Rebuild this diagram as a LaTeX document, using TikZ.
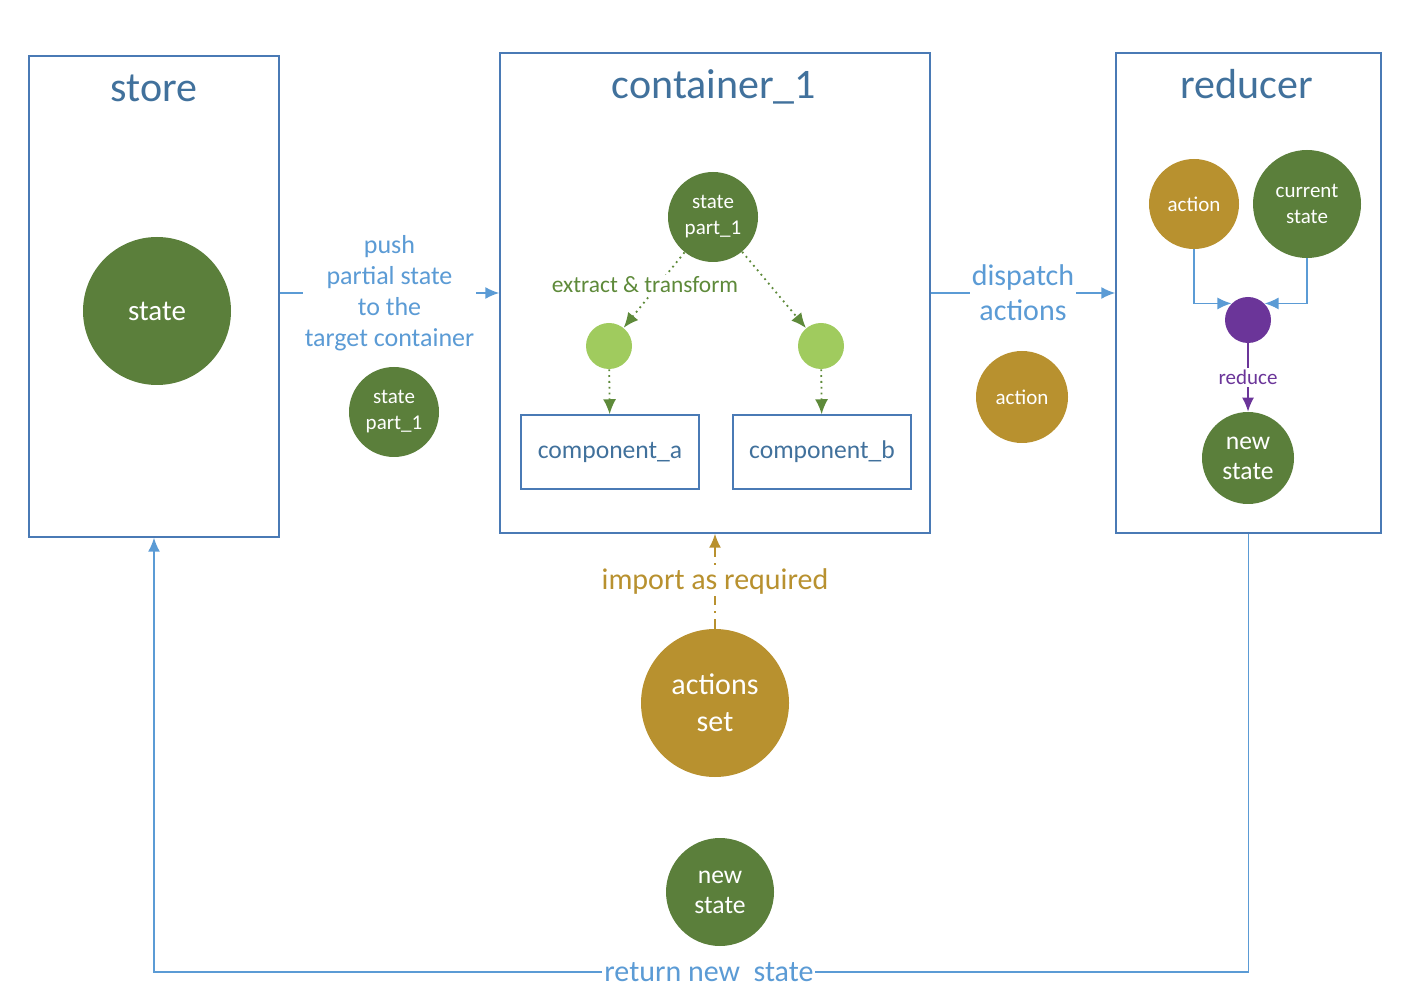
\documentclass[tikz,border=0pt]{standalone}
\usepackage{fontspec}
\setmainfont{Carlito}
\usetikzlibrary{positioning,arrows.meta}
\definecolor{boxblue}{HTML}{4A7AB5}
\definecolor{titleblue}{HTML}{41719C}
\definecolor{lineblue}{HTML}{5B9BD5}
\definecolor{stategreen}{HTML}{5B7F3B}
\definecolor{leafgreen}{HTML}{A0CB5E}
\definecolor{labelgreen}{HTML}{5E8A3A}
\definecolor{actiongold}{HTML}{B8912F}
\definecolor{reducepurple}{HTML}{6B3599}

\begin{document}
\begin{tikzpicture}[x=0.5pt,y=-0.5pt,
  box/.style={rectangle,draw=boxblue,line width=0.75pt},
  boxtitle/.style={text=titleblue,font=\fontsize{21}{25}\selectfont},
  blob/.style={circle,fill=#1,text=white,align=center,inner sep=0pt},
  flow/.style={-{Latex[length=7pt,width=6pt]},draw=lineblue,line width=0.75pt},
  extracts/.style={-{Latex[length=7.5pt,width=6.5pt]},labelgreen,dotted,line width=0.9pt},
  tag/.style={fill=white,inner sep=1pt,align=center}]
\useasboundingbox (0,0) rectangle (1406,1004);

% store
\node(store)[box,minimum width=125pt,minimum height=240.5pt] at (154,296.5){};
\node(storetitle)[boxtitle] at (154,88){store};
\node(state)[blob=stategreen,minimum size=74pt,font=\fontsize{14.5}{17}\selectfont] at (157,311){state};

% container_1
\node(container)[box,minimum width=215pt,minimum height=240pt] at (715,293){};
\node(containertitle)[boxtitle] at (714,87){container\_1};
\node(part)[blob=stategreen,minimum size=45pt,font=\fontsize{10.5}{13}\selectfont] at (713,217){state\\part\_1};
\node(leafa)[blob=leafgreen,minimum size=23pt] at (609,346){};
\node(leafb)[blob=leafgreen,minimum size=23pt] at (821,346){};
\node(compa)[box,minimum width=89pt,minimum height=37pt,text=titleblue,font=\fontsize{12.8}{15}\selectfont] at (610,452){component\_a};
\node(compb)[box,minimum width=89pt,minimum height=37pt,text=titleblue,font=\fontsize{12.8}{15}\selectfont] at (822,452){component\_b};
\draw[extracts](part)--(leafa);
\draw[extracts](part)--(leafb);
\draw[extracts](leafa)--(compa);
\draw[extracts](leafb)--(compb);
\node(extract)[tag,text=labelgreen,font=\fontsize{11.7}{14}\selectfont] at (645,285){extract \& transform};

% reducer
\node(reducer)[box,minimum width=132.5pt,minimum height=240pt] at (1248.5,293){};
\node(reducertitle)[boxtitle] at (1247,84){reducer};
\node(act)[blob=actiongold,minimum size=45pt,font=\fontsize{10.5}{13}\selectfont] at (1194,204){action};
\node(cur)[blob=stategreen,minimum size=54pt,font=\fontsize{10.5}{13}\selectfont] at (1307,204){current\\state};
\node(merge)[blob=reducepurple,minimum size=23pt] at (1248,320){};
\node(newin)[blob=stategreen,minimum size=46pt,font=\fontsize{12.8}{15}\selectfont] at (1248,458){new\\state};
\draw[flow](act.south) |- (merge.north west);
\draw[flow](cur.south) |- (merge.north east);
\draw[-{Latex[length=7pt,width=6pt]},reducepurple,line width=0.75pt](merge)--node[tag,text=reducepurple,font=\fontsize{10.5}{13}\selectfont]{reduce}(newin);

% between the boxes
\node(partout)[blob=stategreen,minimum size=45pt,font=\fontsize{10.5}{13}\selectfont] at (394,412){state\\part\_1};
\node(actout)[blob=actiongold,minimum size=46pt,font=\fontsize{10.5}{13}\selectfont] at (1022,397){action};
\draw[flow](store.east |- container.west)--node[tag,text=lineblue,font=\fontsize{13}{15.5}\selectfont]{push\\partial state\\to the\\target container}(container.west);
\draw[flow](container)--node[tag,text=lineblue,font=\fontsize{15}{17.5}\selectfont]{dispatch\\actions}(reducer);

% actions set
\node(aset)[blob=actiongold,minimum size=74pt,font=\fontsize{15}{18.5}\selectfont] at (715,703){actions\\set};
\draw[-{Latex[length=7pt,width=6pt]},actiongold,dash pattern=on 5pt off 3pt on 1pt off 3pt,line width=0.75pt](aset)--node[tag,text=actiongold,font=\fontsize{15}{18}\selectfont]{import as required}(container);

% return path
\node(newout)[blob=stategreen,minimum size=54pt,font=\fontsize{12.8}{15}\selectfont] at (720,892){new\\state};
\coordinate(retbase) at (0,972);
\coordinate(retR) at (reducer.south |- retbase);
\coordinate(retL) at (store.south |- retbase);
\draw[flow](reducer.south)--(retR)--node[tag,pos=0.493,text=lineblue,font=\fontsize{15}{18}\selectfont]{return new\ \ state}(retL)--(store.south);
\end{tikzpicture}
\end{document}
